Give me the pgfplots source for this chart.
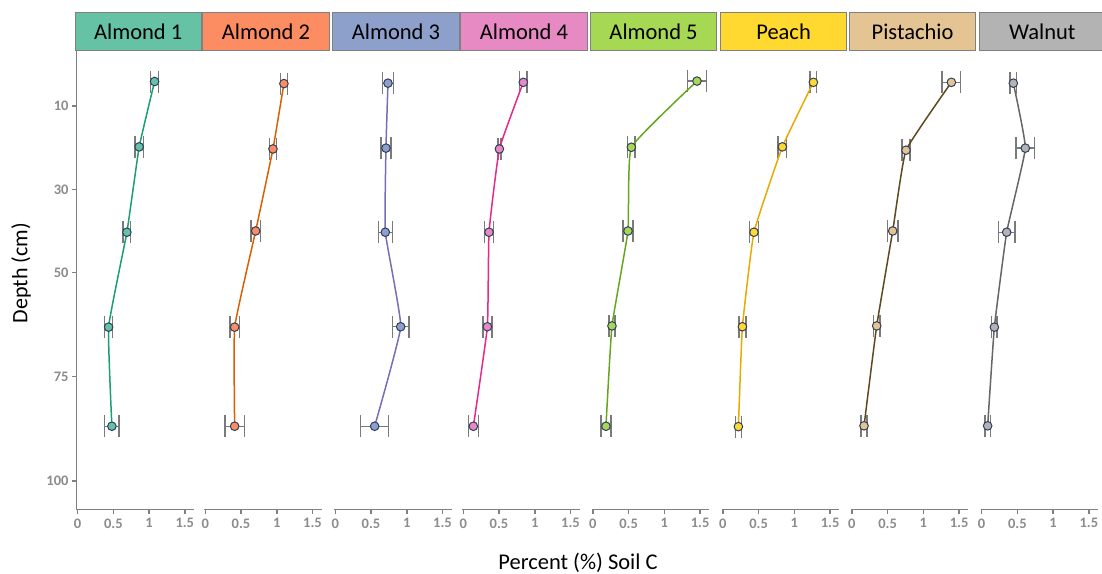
\documentclass[border=0pt]{standalone}
\usepackage{fontspec}
\setmainfont{Carlito}
\usepackage{pgfplots}
\usepackage{pgfplotstable}
\pgfplotsset{compat=1.18}

\definecolor{f1}{HTML}{66C2A5}\definecolor{l1}{HTML}{1B9E77}
\definecolor{f2}{HTML}{FC8D62}\definecolor{l2}{HTML}{D95F02}
\definecolor{f3}{HTML}{8DA0CB}\definecolor{l3}{HTML}{7570B3}
\definecolor{f4}{HTML}{E78AC3}\definecolor{l4}{HTML}{E7298A}
\definecolor{f5}{HTML}{A6D854}\definecolor{l5}{HTML}{66A61E}
\definecolor{f6}{HTML}{FFD92F}\definecolor{l6}{HTML}{E6AB02}
\definecolor{f7}{HTML}{E5C494}\definecolor{l7}{HTML}{5E4A1E}
\definecolor{f8}{HTML}{B3B3B3}\definecolor{l8}{HTML}{666666}
\definecolor{mkline}{HTML}{2F3E5C}
\definecolor{errgray}{HTML}{7A7A7A}
\definecolor{axgray}{HTML}{808080}
\definecolor{tickgray}{HTML}{8C8C8C}
\definecolor{hdrgray}{HTML}{808080}

\pgfplotstableread{
x y e
1.077 4.1 0.056
0.862 19.8 0.060
0.690 40.3 0.052
0.434 63.1 0.054
0.480 86.9 0.100
}\tA
\pgfplotstableread{
x y e
1.100 4.6 0.047
0.947 20.3 0.052
0.705 40.0 0.065
0.411 63.1 0.065
0.411 86.9 0.135
}\tB
\pgfplotstableread{
x y e
0.737 4.5 0.075
0.709 20.1 0.068
0.700 40.3 0.098
0.915 63.0 0.114
0.551 86.9 0.196
}\tC
\pgfplotstableread{
x y e
0.840 4.3 0.051
0.505 20.3 0.020
0.360 40.3 0.065
0.337 63.0 0.063
0.141 86.9 0.070
}\tD
\pgfplotstableread{
x y e
1.456 4.0 0.133
0.538 19.9 0.051
0.491 40.0 0.068
0.267 62.8 0.042
0.183 86.9 0.070
}\tE
\pgfplotstableread{
x y e
1.266 4.3 0.047
0.832 19.8 0.058
0.435 40.3 0.060
0.273 63.0 0.050
0.217 87.0 0.042
}\tF
\pgfplotstableread{
x y e
1.392 4.3 0.128
0.757 20.6 0.058
0.571 40.0 0.075
0.347 62.8 0.044
0.170 86.8 0.042
}\tG
\pgfplotstableread{
x y e
0.444 4.5 0.044
0.612 20.1 0.130
0.351 40.3 0.116
0.179 63.1 0.040
0.085 86.8 0.040
}\tH

\pgfplotsset{
  panel/.style 2 args={
    scale only axis, width=117.6pt, height=458.8pt,
    anchor=south west,
    xmin=-0.015, xmax=1.63, ymin=-3.3, ymax=106.9, y dir=reverse,
    clip=false,
    axis x line*=bottom, axis y line*=left,
    axis line style={draw=axgray, line width=1.8pt, -},
    xtick={0,0.5,1,1.5},
    xticklabels={0,0.5,1,1.5},
    tick align=outside, major tick length=4.5pt,
    tick style={draw=axgray, line width=1.5pt},
    /pgf/number format/assume math mode=true,
    tick label style={font=\bfseries\fontsize{14.5}{16}\selectfont, text=tickgray},
    xticklabel style={yshift=-1pt},
    after end axis/.code={
      \draw[draw=hdrgray, fill=#2, line width=0.8pt]
        ([xshift=-1.5pt]axis description cs:0,1) rectangle ([xshift=7.4pt,yshift=38pt]axis description cs:1,1);
      \node[font=\fontsize{22.5}{24}\selectfont, text=black] at ([xshift=2.95pt,yshift=19pt]axis description cs:0.5,1) {#1};
    },
  },
  noy/.style={y axis line style={draw=none}, ytick=\empty},
  errb/.style={forget plot, draw=none, mark=none,
    error bars/.cd, x dir=both, x explicit,
    error bar style={draw=errgray, line width=1.3pt},
    error mark options={draw=errgray, line width=1.5pt, mark size=11pt, rotate=90}},
  ser/.style 2 args={draw=#1, line width=1.5pt, smooth, tension=0.2,
    mark=*, mark size=4.3pt, mark options={fill=#2, draw=mkline, line width=1pt, solid}},
}

\begin{document}
\begin{tikzpicture}
\useasboundingbox (0,0) rectangle (1102pt,573pt);

\begin{axis}[panel={Almond 1}{f1}, at={(76.5pt,63.5pt)},
  ytick={10,30,50,75,100}, yticklabels={10,30,50,75,100}]
\addplot[errb] table[x=x,y=y,x error=e]{\tA};
\addplot[ser={l1}{f1}] table[x=x,y=y]{\tA};
\end{axis}

\begin{axis}[panel={Almond 2}{f2}, at={(204.2pt,63.5pt)}, noy]
\addplot[errb] table[x=x,y=y,x error=e]{\tB};
\addplot[ser={l2}{f2}] table[x=x,y=y]{\tB};
\end{axis}

\begin{axis}[panel={Almond 3}{f3}, at={(334.2pt,63.5pt)}, noy]
\addplot[errb] table[x=x,y=y,x error=e]{\tC};
\addplot[ser={l3}{f3}] table[x=x,y=y]{\tC};
\end{axis}

\begin{axis}[panel={Almond 4}{f4}, at={(462.2pt,63.5pt)}, noy]
\addplot[errb] table[x=x,y=y,x error=e]{\tD};
\addplot[ser={l4}{f4}] table[x=x,y=y]{\tD};
\end{axis}

\begin{axis}[panel={Almond 5}{f5}, at={(591.8pt,63.5pt)}, noy]
\addplot[errb] table[x=x,y=y,x error=e]{\tE};
\addplot[ser={l5}{f5}] table[x=x,y=y]{\tE};
\end{axis}

\begin{axis}[panel={Peach}{f6}, at={(721.8pt,63.5pt)}, noy]
\addplot[errb] table[x=x,y=y,x error=e]{\tF};
\addplot[ser={l6}{f6}] table[x=x,y=y]{\tF};
\end{axis}

\begin{axis}[panel={Pistachio}{f7}, at={(850.8pt,63.5pt)}, noy]
\addplot[errb] table[x=x,y=y,x error=e]{\tG};
\addplot[ser={l7}{f7}] table[x=x,y=y]{\tG};
\end{axis}

\begin{axis}[panel={Walnut}{f8}, at={(980.5pt,63.5pt)}, noy]
\addplot[errb] table[x=x,y=y,x error=e]{\tH};
\addplot[ser={l8}{f8}] table[x=x,y=y]{\tH};
\end{axis}

\node[rotate=90, font=\fontsize{22}{24}\selectfont] at (21pt,300pt) {Depth (cm)};
\node[anchor=base, font=\fontsize{22.5}{24}\selectfont] at (578pt,4pt) {Percent (\%) Soil C};
\end{tikzpicture}
\end{document}
